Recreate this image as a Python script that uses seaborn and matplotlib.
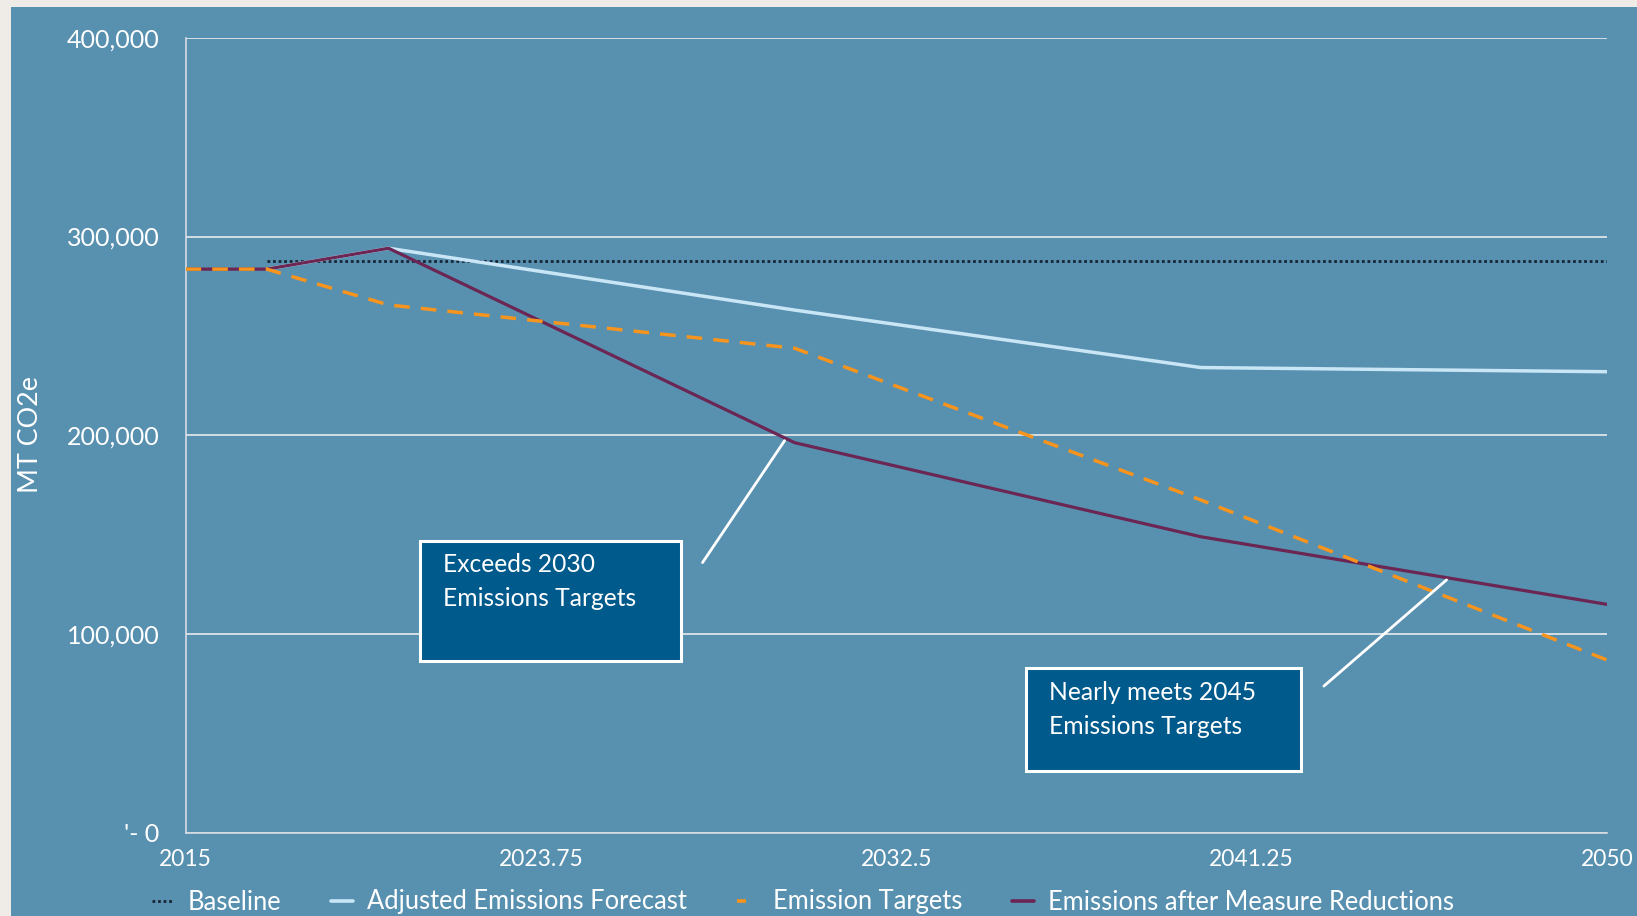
import matplotlib
matplotlib.use("Agg")
import matplotlib.pyplot as plt
from matplotlib.patches import Rectangle
from matplotlib.lines import Line2D
import seaborn as sns
import pandas as pd

# ---- data (MT CO2e) ----
baseline_years = [2017, 2050]
baseline_values = [287700, 287700]

forecast_years = [2017, 2020, 2030, 2040, 2050]
forecast_values = [283600, 294100, 263000, 234100, 232000]

target_years = [2015, 2017, 2020, 2030, 2040, 2050]
target_values = [283600, 283600, 265600, 243800, 167500, 87000]

reduced_years = [2015, 2017, 2020, 2030, 2040, 2050]
reduced_values = [283600, 283600, 294100, 196300, 149000, 115000]

series_names = ["Baseline", "Adjusted Emissions Forecast",
                "Emission Targets", "Emissions after Measure Reductions"]

x_ticks = [2015, 2023.75, 2032.5, 2041.25, 2050]
x_tick_labels = ["2015", "2023.75", "2032.5", "2041.25", "2050"]
y_ticks = [0, 100000, 200000, 300000, 400000]
y_tick_labels = ["'- 0", "100,000", "200,000", "300,000", "400,000"]

note_2030 = "Exceeds 2030\nEmissions Targets"
note_2045 = "Nearly meets 2045\nEmissions Targets"

# ---- style ----
sns.set_theme(style="white")
plt.rcParams["font.family"] = ["Lato", "DejaVu Sans"]

PANEL = "#5890b0"
PAGE = "#efebe7"
BOX = "#005a8c"
C_BASE = "#172536"
C_FORE = "#c8e6f5"
C_TARGET = "#f7941d"
C_REDUCED = "#6b2653"
GRID = "#e8ecef"

W, H = 1637, 916
fig = plt.figure(figsize=(W / 100, H / 100), dpi=100, facecolor=PAGE)
panel = Rectangle((11 / W, 0), 1 - 11 / W, 1 - 7 / H,
                  transform=fig.transFigure, facecolor=PANEL,
                  edgecolor="none", zorder=-10)
fig.add_artist(panel)

ax = fig.add_axes([185.5 / W, 1 - 833 / H, (1607 - 185.5) / W, (833 - 37.7) / H])
ax.set_facecolor("none")
ax.set_zorder(1)

frames = {
    series_names[0]: pd.DataFrame({"year": baseline_years, "value": baseline_values}),
    series_names[1]: pd.DataFrame({"year": forecast_years, "value": forecast_values}),
    series_names[2]: pd.DataFrame({"year": target_years, "value": target_values}),
    series_names[3]: pd.DataFrame({"year": reduced_years, "value": reduced_values}),
}

sns.lineplot(data=frames[series_names[1]], x="year", y="value", ax=ax,
             color=C_FORE, linewidth=2.5, zorder=3)
sns.lineplot(data=frames[series_names[3]], x="year", y="value", ax=ax,
             color=C_REDUCED, linewidth=2.3, zorder=4)
sns.lineplot(data=frames[series_names[2]], x="year", y="value", ax=ax,
             color=C_TARGET, linewidth=2.5, zorder=5)
ax.lines[-1].set_dashes([4.5, 3.2])
sns.lineplot(data=frames[series_names[0]], x="year", y="value", ax=ax,
             color=C_BASE, linewidth=2.0, zorder=2)
ax.lines[-1].set_dashes([1, 1.0])

ax.set_xlim(2015, 2050)
ax.set_ylim(0, 400000)
ax.set_xticks(x_ticks)
ax.set_xticklabels(x_tick_labels)
ax.set_yticks(y_ticks)
ax.set_yticklabels(y_tick_labels)
ax.tick_params(axis="x", length=0, pad=11.5, labelsize=16.4, labelcolor="white")
ax.tick_params(axis="y", length=0, pad=18.6, labelsize=18, labelcolor="white")
ax.set_xlabel("")
ax.set_ylabel("MT CO2e", color="white", fontsize=19.4)
ax.yaxis.set_label_coords(-0.1002, 0.5004)

ax.grid(axis="y", color=GRID, linewidth=1.2)
ax.grid(axis="x", visible=False)
for side in ["top", "right"]:
    ax.spines[side].set_visible(False)
for side in ["left", "bottom"]:
    ax.spines[side].set_color("#d6dce2")
    ax.spines[side].set_linewidth(1.2)
ax.set_axisbelow(True)

# ---- callouts ----
ax.add_patch(Rectangle((2020.77, 86500), 2027.20 - 2020.77, 146900 - 86500,
                       facecolor=BOX, edgecolor="white", linewidth=2.2, zorder=6))
ax.text(2021.34, 140600, note_2030, color="white", fontsize=17.7,
        va="top", ha="left", linespacing=1.55, zorder=7)
ax.plot([2027.73, 2029.75], [136000, 197300], color="white", linewidth=2, zorder=6)

ax.add_patch(Rectangle((2035.70, 31400), 2042.47 - 2035.70, 82900 - 31400,
                       facecolor=BOX, edgecolor="white", linewidth=2.2, zorder=6))
ax.text(2036.27, 76400, note_2045, color="white", fontsize=17.7,
        va="top", ha="left", linespacing=1.55, zorder=7)
ax.plot([2043.03, 2046.05], [73900, 127300], color="white", linewidth=2, zorder=6)

# ---- legend ----
handles = [
    Line2D([], [], color=C_BASE, linewidth=2.0, dashes=[1, 1.0]),
    Line2D([], [], color=C_FORE, linewidth=2.6),
    Line2D([], [], color=C_TARGET, linewidth=2.6, dashes=[2.5, 20]),
    Line2D([], [], color=C_REDUCED, linewidth=2.6),
]
leg = fig.legend(handles, series_names, loc="center", ncol=4,
                 bbox_to_anchor=(803 / W, 1 - 902 / H), frameon=False,
                 fontsize=18.4, labelcolor="white", handlelength=0.85,
                 handletextpad=0.55, columnspacing=1.95)

fig.savefig("out.png", dpi=100, facecolor=PAGE)
